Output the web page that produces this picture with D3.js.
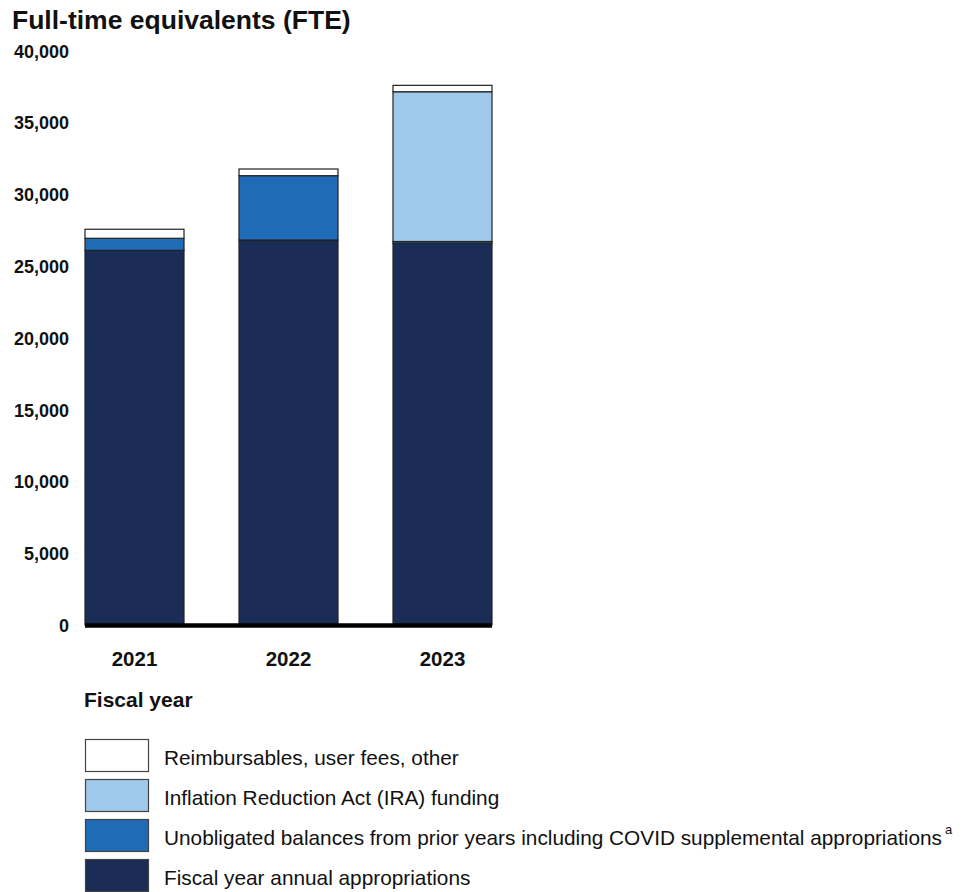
<!DOCTYPE html>
<html><head><meta charset="utf-8">
<script src="https://cdn.jsdelivr.net/npm/d3@7"></script>
<style>
body{margin:0;background:#fff;}
svg{display:block;font-family:"Liberation Sans",Arial,sans-serif;}
</style></head>
<body>
<svg id="chart" width="972" height="892"></svg>
<script>
const years = ["2021","2022","2023"];
const seriesKeys = ["annual","unobligated","ira","reimb"];
const annual = [26090, 26810, 26580];
const unobligated = [840, 4480, 125];
const ira = [0, 0, 10430];
const reimb = [630, 465, 445];
const yTicks = [0,5000,10000,15000,20000,25000,30000,35000,40000];
const legendLabels = [
  "Reimbursables, user fees, other",
  "Inflation Reduction Act (IRA) funding",
  "Unobligated balances from prior years including COVID supplemental appropriations",
  "Fiscal year annual appropriations"
];
const legendKeys = ["reimb","ira","unobligated","annual"];
const colors = {annual:"#1b2d56", unobligated:"#206bb5", ira:"#9fc9ea", reimb:"#ffffff"};

const rows = years.map((y,i)=>({year:y, annual:annual[i], unobligated:unobligated[i], ira:ira[i], reimb:reimb[i]}));
const stacked = d3.stack().keys(seriesKeys)(rows);

const svg = d3.select("#chart");
const x = d3.scaleBand().domain(years).range([85,492]).paddingInner(55/154).paddingOuter(0);
const y = d3.scaleLinear().domain([0,40000]).range([625,50.6]);

svg.append("text").attr("x",12).attr("y",29).attr("font-size",26.5).attr("font-weight","bold").attr("fill","#111")
  .text("Full-time equivalents (FTE)");

// y axis labels
const yAxis = d3.axisLeft(y).tickValues(yTicks).tickFormat(d3.format(",")).tickSize(0).tickPadding(0);
const ya = svg.append("g").attr("transform","translate(69,0)").call(yAxis);
ya.select(".domain").remove();
ya.selectAll("text").attr("font-size",18).attr("font-weight","bold").attr("fill","#111")
  .attr("font-family","'Liberation Sans',Arial,sans-serif").attr("dy","0.36em");

// bars
svg.append("g").selectAll("g").data(stacked).join("g")
  .attr("fill",d=>colors[d.key])
  .selectAll("rect").data(d=>d.filter(s=>s[1]-s[0]>0)).join("rect")
  .attr("x",d=>x(d.data.year)).attr("width",x.bandwidth())
  .attr("y",d=>y(d[1])).attr("height",d=>y(d[0])-y(d[1]))
  .attr("stroke","#222").attr("stroke-width",1.2);

// baseline
svg.append("line").attr("x1",85).attr("x2",492).attr("y1",y(0)+0.5).attr("y2",y(0)+0.5)
  .attr("stroke","#000").attr("stroke-width",4.5);

// x axis labels
const xAxis = d3.axisBottom(x).tickSize(0).tickPadding(0);
const xa = svg.append("g").attr("transform","translate(0,651)").call(xAxis);
xa.select(".domain").remove();
xa.selectAll("text").attr("font-size",20.5).attr("font-weight","bold").attr("fill","#111")
  .attr("font-family","'Liberation Sans',Arial,sans-serif").attr("dy","0.71em");

svg.append("text").attr("x",84).attr("y",707).attr("font-size",21).attr("font-weight","bold").attr("fill","#111")
  .text("Fiscal year");

// legend
const lg = svg.append("g").selectAll("g").data(legendKeys).join("g")
  .attr("transform",(d,i)=>`translate(85,${739+i*40})`);
lg.append("rect").attr("x",0.5).attr("y",0.5).attr("width",63).attr("height",32)
  .attr("fill",d=>colors[d]).attr("stroke","#444").attr("stroke-width",1.2);
const lt = lg.append("text").attr("x",79).attr("y",26).attr("font-size",20.8).attr("fill","#111")
  .text((d,i)=>legendLabels[i]);
lt.filter((d,i)=>i===2).append("tspan").attr("font-size",13).attr("dy",-11).attr("dx",3).text("a");
</script>
</body></html>
